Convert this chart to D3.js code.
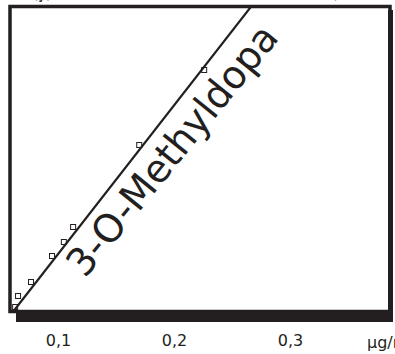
<!DOCTYPE html>
<html>
<head>
<meta charset="utf-8">
<script src="https://cdnjs.cloudflare.com/ajax/libs/d3/7.8.5/d3.min.js"></script>
<style>
  body { margin: 0; background: #fff; }
  #vis text { font-family: "DejaVu Sans", sans-serif; fill: #231f20; }
</style>
</head>
<body>
<div id="vis"></div>
<script>
// Calibration points (concentration in µg/ml, response in arbitrary units)
var concentrations = [0.063, 0.0655, 0.0767, 0.0948, 0.105, 0.113, 0.170, 0.226];
var responses = [0.03, 0.14, 0.28, 0.54, 0.68, 0.83, 1.65, 2.40];

// Regression line y = slope * x + intercept
var slope = 14.87;
var intercept = -0.928;

var xTicks = [0.1, 0.2, 0.3];
var seriesLabel = '3-O-Methyldopa';
var unitLabel = 'µg/ml';
var titleText = '(y) Eichkurve nach Extraktion aus dem Harn)';

var width = 395;
var height = 354;

// plot area inside the frame
var plot = { left: 12, right: 388, top: 8, bottom: 310 };

var svg = d3.select('#vis')
    .append('svg')
    .attr('width', width)
    .attr('height', height);

var ink = '#231f20';

// x range is cropped: 0 sits off to the left of the frame
var xScale = d3.scaleLinear()
    .domain([0.0603, 0.3845])
    .range([plot.left, plot.right]);

var yScale = d3.scaleLinear()
    .domain([0, 3.02])
    .range([plot.bottom, plot.top]);

// title that is cut off at the top edge (only descenders show)
svg.append('text')
    .attr('x', 33)
    .attr('y', -2)
    .attr('textLength', 306)
    .attr('lengthAdjust', 'spacingAndGlyphs')
    .style('font-size', '20px')
    .text(titleText);

// drop shadow of the frame
svg.append('rect')
    .attr('x', plot.left + 4)
    .attr('y', plot.bottom)
    .attr('width', width - 2 - plot.left - 4)
    .attr('height', 12)
    .style('fill', ink);

svg.append('rect')
    .attr('x', plot.right)
    .attr('y', plot.top + 2)
    .attr('width', 5)
    .attr('height', plot.bottom + 12 - plot.top - 2)
    .style('fill', ink);

// frame
svg.append('rect')
    .attr('x', plot.left - 2)
    .attr('y', plot.top - 1.5)
    .attr('width', plot.right - plot.left + 4)
    .attr('height', plot.bottom - plot.top + 3)
    .style('fill', 'none')
    .style('stroke', ink)
    .style('stroke-width', 3.5);

svg.append('clipPath')
    .attr('id', 'clip')
    .append('rect')
    .attr('x', plot.left)
    .attr('y', plot.top)
    .attr('width', plot.right - plot.left)
    .attr('height', plot.bottom - plot.top + 3);

var g = svg.append('g').attr('clip-path', 'url(#clip)');

// regression line
var xEnds = [0.05, 0.3];
g.append('line')
    .attr('x1', xScale(xEnds[0]))
    .attr('y1', yScale(slope * xEnds[0] + intercept))
    .attr('x2', xScale(xEnds[1]))
    .attr('y2', yScale(slope * xEnds[1] + intercept))
    .style('stroke', ink)
    .style('stroke-width', 2.2);

// calibration points as open squares
var pts = concentrations.map(function (c, i) {
    return { x: c, y: responses[i] };
});
var size = 5;
svg.selectAll('.pt')
    .data(pts)
    .enter().append('rect')
    .attr('class', 'pt')
    .attr('x', function (d) { return xScale(d.x) - size / 2; })
    .attr('y', function (d) { return yScale(d.y) - size / 2; })
    .attr('width', size)
    .attr('height', size)
    .style('fill', 'none')
    .style('stroke', ink)
    .style('stroke-width', 1);

// series label running along the line
var labelX = 0.1233;
var labelY = 0.31;
svg.append('text')
    .attr('transform', 'translate(' + xScale(labelX) + ',' + yScale(labelY) + ') rotate(-51)')
    .attr('textLength', 310)
    .attr('lengthAdjust', 'spacingAndGlyphs')
    .style('font-size', '39px')
    .text(seriesLabel);

// x axis: labels only
var xAxis = d3.axisBottom(xScale)
    .tickValues(xTicks)
    .tickSize(0)
    .tickPadding(0)
    .tickFormat(function (d) { return d3.format('.1f')(d).replace('.', ','); });

var xAxisG = svg.append('g')
    .attr('transform', 'translate(0,' + 335 + ')')
    .call(xAxis);
xAxisG.select('.domain').remove();
xAxisG.selectAll('text')
    .style('font-size', '16px')
    .style('font-family', '"DejaVu Sans", sans-serif')
    .attr('fill', ink);

svg.append('text')
    .attr('x', 367)
    .attr('y', 348)
    .style('font-size', '16px')
    .text(unitLabel);
</script>
</body>
</html>
